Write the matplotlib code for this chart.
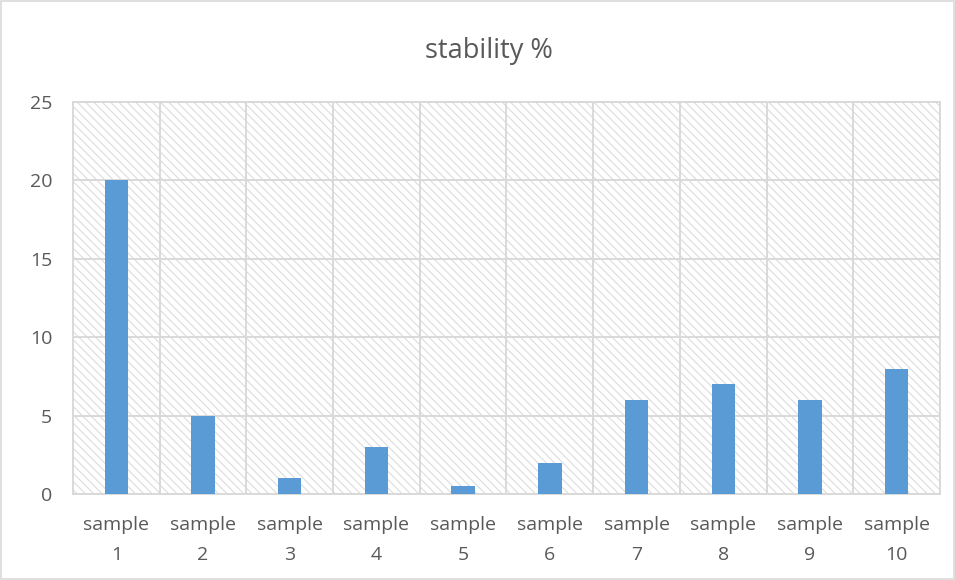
import matplotlib
matplotlib.use("Agg")
import matplotlib.pyplot as plt
from matplotlib.patches import Rectangle
import numpy as np

categories = ["sample\n1", "sample\n2", "sample\n3", "sample\n4", "sample\n5",
              "sample\n6", "sample\n7", "sample\n8", "sample\n9", "sample\n10"]
values = [20, 5, 1, 3, 0.5, 2, 6, 7, 6, 8]
yticks = [0, 5, 10, 15, 20, 25]
title = "stability %"

plt.rcParams['font.family'] = ['Open Sans', 'DejaVu Sans']
plt.rcParams['hatch.color'] = '#DCDCDC'
plt.rcParams['hatch.linewidth'] = 0.8

fig = plt.figure(figsize=(9.55, 5.8), dpi=100)
ax = fig.add_axes([0.0764, 0.1483, 0.9079, 0.6758])

n = len(categories)
x = np.arange(n)
ax.set_xlim(-0.5, n - 0.5)
ax.set_ylim(0, 25)

# hatched background
bg = Rectangle((0, 0), 1, 1, transform=ax.transAxes, facecolor='white',
               edgecolor='#DCDCDC', hatch='\\\\\\\\', linewidth=0, zorder=0)
ax.add_patch(bg)

# gridlines
for yv in yticks:
    ax.axhline(yv, color='#D9D9D9', linewidth=1.4, zorder=1)
for b in np.arange(-0.5, n + 0.5, 1):
    ax.axvline(b, color='#D9D9D9', linewidth=1.4, zorder=1)

ax.bar(x, values, width=0.27, color='#5B9BD5', zorder=3)

for s in ax.spines.values():
    s.set_color('#D9D9D9')
    s.set_linewidth(1.4)

ax.set_yticks(yticks)
ax.set_yticklabels([str(v) for v in yticks])
ax.set_xticks(x)
ax.set_xticklabels(categories, linespacing=1.85)
ax.tick_params(axis='both', length=0, labelsize=14, colors='#595959')
ax.tick_params(axis='y', pad=15)
ax.tick_params(axis='x', pad=16)

fig.text(0.512, 0.912, title, ha='center', va='center', fontsize=19.5, color='#595959')

fig.patches.append(Rectangle((0.001, 0.001), 0.998, 0.998, transform=fig.transFigure,
                             fill=False, edgecolor='#D9D9D9', linewidth=1.2))

fig.savefig("out.png", dpi=100)
